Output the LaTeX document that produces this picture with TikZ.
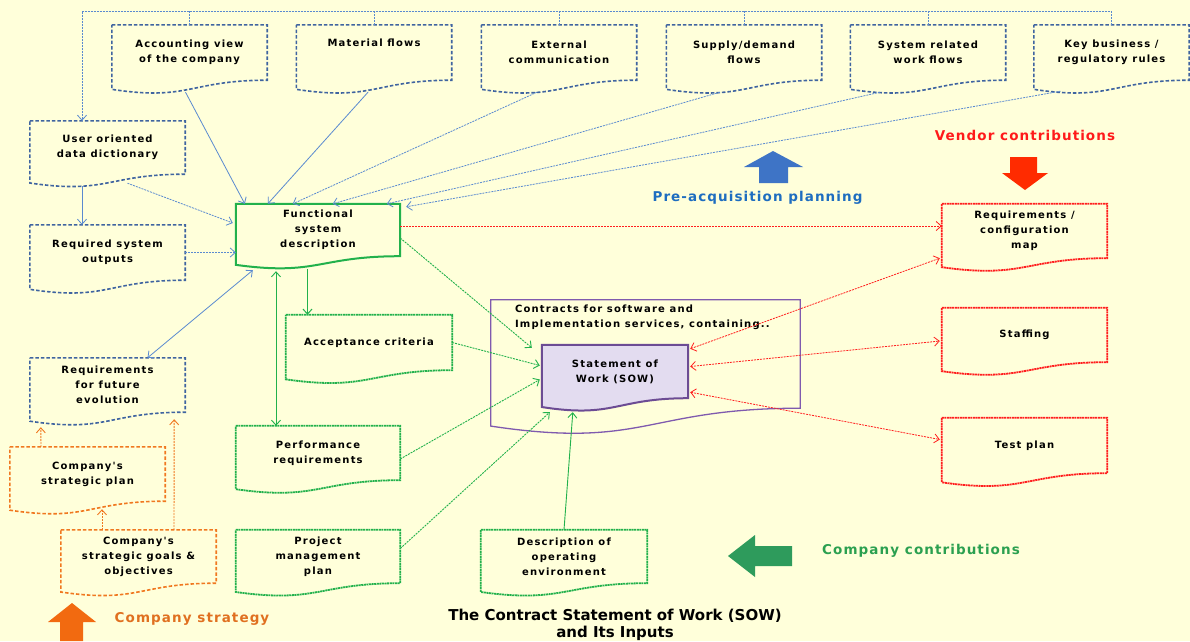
\documentclass[tikz,border=0pt]{standalone}
\usepackage{fontspec}
\setmainfont{DejaVu Sans}
\newfontfamily\boxfont{DejaVu Sans}[LetterSpace=12]
\newfontfamily\labfont{DejaVu Sans}[LetterSpace=8]
\usetikzlibrary{arrows.meta,calc}
\definecolor{bgcol}{HTML}{FFFFDA}
\definecolor{bluebox}{HTML}{3F64A0}
\definecolor{bluelink}{HTML}{5A8AD0}
\definecolor{greenbox}{HTML}{22B14C}
\definecolor{redbox}{HTML}{FF1E1E}
\definecolor{orangebox}{HTML}{F07820}
\definecolor{purplebox}{HTML}{7F5AAE}
\definecolor{sowfill}{HTML}{E3DCF0}
\definecolor{blockblue}{HTML}{3E74C6}
\definecolor{blockred}{HTML}{FF2B00}
\definecolor{blockgreen}{HTML}{2E9B5C}
\definecolor{blockorange}{HTML}{F26A10}
\definecolor{txtblue}{HTML}{1E6DC0}
\definecolor{txtred}{HTML}{FF1A1A}
\definecolor{txtgreen}{HTML}{2BA050}
\definecolor{txtorange}{HTML}{E07020}
% document outline: box with a wavy bottom
\newcommand{\docshape}[2]{%
  \draw[#1] (#2.north west) -- (#2.north east) -- (#2.south east)
    .. controls (#2.south) and ($(#2.north)!1.38!(#2.south)$) .. ($(#2.north west)!1.165!(#2.south west)$) -- cycle;}
\tikzset{
  docbox/.style={inner sep=0pt,align=center,text=black,font=\boxfont\bfseries\fontsize{10}{15}\selectfont},
  bluedash/.style={draw=bluebox,line width=1.6pt,dash pattern=on 3.5pt off 2pt},
  orangedash/.style={draw=orangebox,line width=1.6pt,dash pattern=on 3.5pt off 2pt},
  greensolid/.style={draw=greenbox,line width=2pt},
  greendots/.style={draw=greenbox,line width=1.8pt,dash pattern=on 2pt off 0.6pt},
  reddots/.style={draw=redbox,line width=1.8pt,dash pattern=on 2pt off 0.6pt},
  ctrline/.style={draw=purplebox,line width=1.3pt},
  sowline/.style={draw=purplebox!85!black,line width=2pt,fill=sowfill},
  bluelk/.style={draw=bluelink,line width=0.8pt},
  bluedot/.style={bluelk,dash pattern=on 2pt off 1pt},
  greenlk/.style={draw=greenbox,line width=0.9pt},
  greendot/.style={greenlk,dash pattern=on 2pt off 1pt},
  reddot/.style={draw=redbox,line width=0.8pt,dash pattern=on 2pt off 1pt},
  orangelk/.style={draw=orangebox,line width=0.9pt,dash pattern=on 2pt off 1pt},
  lab/.style={font=\labfont\bfseries\fontsize{13.5}{15}\selectfont}
}
\begin{document}
\begin{tikzpicture}[x=1pt,y=1pt,>={Straight Barb[length=5pt,width=9pt]}]
  \fill[bgcol] (0,0) rectangle (1190,-641);
  \useasboundingbox (0,0) rectangle (1190,-641);
  % business views along the top
  \foreach \n/\x/\t in {acct/189.5/{Accounting view\\of the company},
      matl/374/{Material flows\\\strut}, extc/559/{External\\communication},
      supd/744/{Supply/demand\\flows}, sysw/928/{System related\\work flows},
      keyb/1111.5/{Key business /\\regulatory rules}} {
    \node[docbox,minimum width=155pt,minimum height=55pt] (\n) at (\x,-52.5) {\t};
    \docshape{bluedash}{\n}
  }
  % left column
  \node[docbox,minimum width=155pt,minimum height=53pt] (usr) at (107.5,-147.5) {User oriented\\data dictionary};
  \node[docbox,minimum width=155pt,minimum height=55pt] (rso) at (107.5,-252.5) {Required system\\outputs};
  \node[docbox,minimum width=155pt,minimum height=54pt] (rfe) at (107.5,-385) {Requirements\\for future\\evolution};
  \foreach \n in {usr,rso,rfe} {\docshape{bluedash}{\n}}
  % company strategy
  \node[docbox,minimum width=155pt,minimum height=54pt] (csp) at (87.5,-474) {Company's\\strategic plan};
  \node[docbox,minimum width=155pt,minimum height=53pt] (csg) at (138.5,-556.5) {Company's\\strategic goals \&\\objectives};
  \docshape{orangedash}{csp}
  \docshape{orangedash}{csg}
  % company inputs
  \node[docbox,minimum width=164pt,minimum height=52pt] (fsd) at (318,-230) {Functional\\system\\description};
  \node[docbox,minimum width=166pt,minimum height=55pt] (acc) at (369,-342.5) {Acceptance criteria};
  \node[docbox,minimum width=164pt,minimum height=54pt] (prf) at (318,-453) {Performance\\requirements};
  \node[docbox,minimum width=164pt,minimum height=53pt] (pmp) at (318,-556.5) {Project\\management\\plan};
  \node[docbox,minimum width=166pt,minimum height=53pt] (doe) at (564,-556.5) {Description of\\operating\\environment};
  \docshape{greensolid}{fsd}
  \foreach \n in {acc,prf,pmp,doe} {\docshape{greendots}{\n}}
  % contract and SOW
  \node[docbox,minimum width=309pt,minimum height=108pt] (ctr) at (645.5,-354) {};
  \docshape{ctrline}{ctr}
  \node[docbox,anchor=north west,align=left] (ctrtxt) at ($(ctr.north west)+(24,-5)$) {Contracts for software and\\Implementation services, containing..};
  \node[docbox,minimum width=146pt,minimum height=53pt] (sow) at (615,-371.5) {};
  \docshape{sowline}{sow}
  \node[docbox] (sowtxt) at (sow) {Statement of\\Work (SOW)};
  % vendor contributions
  \node[docbox,minimum width=165pt,minimum height=54pt] (rcm) at (1024.5,-231) {Requirements /\\configuration\\map};
  \node[docbox,minimum width=165pt,minimum height=54pt] (stf) at (1024.5,-335) {Staffing};
  \node[docbox,minimum width=165pt,minimum height=55pt] (tpl) at (1024.5,-445.5) {Test plan};
  \foreach \n in {rcm,stf,tpl} {\docshape{reddots}{\n}}
  % top bus
  \coordinate (busw) at (82,-11);
  \draw[bluedot,->] (keyb.north) |- (busw) -- (busw |- usr.north);
  \foreach \n in {acct,matl,extc,supd,sysw} {\draw[bluedot] (\n.north) -- (\n.north |- busw);}
  \draw[bluelk,->] ($(usr.south -| busw)+(0,-12)$) -- (busw |- rso.north);
  % into the functional description
  \draw[bluelk,->] ($(acct.south)+(-4,-12)$) -- ([xshift=9pt]fsd.north west);
  \draw[bluelk,->] ($(matl.south)+(-6,-12)$) -- ([xshift=32pt]fsd.north west);
  \draw[bluedot,->] ($(extc.south)+(-22,-12)$) -- ([xshift=57pt]fsd.north west);
  \draw[bluedot,->] ($(supd.south)+(-24,-12)$) -- ([xshift=97pt]fsd.north west);
  \draw[bluedot,->] ($(sysw.south)+(-48,-12)$) -- ([xshift=151pt]fsd.north west);
  \draw[bluedot,->] ($(keyb.south)+(-51,-11)$) -- ([xshift=6pt,yshift=-3pt]fsd.north east);
  \draw[bluedot,->] ($(usr.south)+(20,-9)$) -- ([xshift=-3pt,yshift=7pt]fsd.west);
  \draw[bluedot,->] (rso.east) -- (rso.east -| fsd.west);
  \draw[bluelk,<->] ($(fsd.south west)+(17,-14)$) -- ([xshift=40pt]rfe.north);
  % green inputs to the SOW
  \coordinate (fa) at ($(fsd.south)+(-10.5,-13)$);
  \draw[draw=greenbox,line width=1pt,->] (fa) -- (fa |- acc.north);
  \coordinate (fp) at ($(fsd.south)+(-42,-15)$);
  \draw[greenlk,<->] (fp) -- (fp |- prf.north);
  \draw[greendot,->] ([yshift=-8pt]fsd.east) -- ([xshift=-10pt,yshift=-3pt]sow.north west);
  \draw[greendot,->] (acc.east) -- ([xshift=-2pt,yshift=6pt]sow.west);
  \draw[greendot,->] ([yshift=-6pt]prf.east) -- ([xshift=-2pt,yshift=-8pt]sow.west);
  \draw[greendot,->] ([yshift=8pt]pmp.east) -- ($(sow.south west)+(8,-14)$);
  \draw[greenlk,->] (doe.north) -- ($(sow.south west)+(31,-14)$);
  % red links
  \coordinate (fr) at ([yshift=4pt]fsd.east);
  \draw[reddot,->] (fr) -- (fr -| rcm.west);
  \draw[reddot,<->] ([xshift=2pt,yshift=-4pt]sow.north east) -- ([xshift=-2pt]rcm.south west);
  \draw[reddot,<->] ([xshift=2pt,yshift=5pt]sow.east) -- ([xshift=-2pt,yshift=-6pt]stf.west);
  \draw[reddot,<->] ([xshift=2pt,yshift=6pt]sow.south east) -- ([xshift=-2pt,yshift=6pt]tpl.west);
  % orange links
  \draw[orangelk,->] ([xshift=-46.5pt]csp.north) -- ($(rfe.south west)+(11,-15)$);
  \draw[orangelk,->] ([xshift=-36.5pt]csg.north) -- ($(csp.south)+(14.5,-8)$);
  \draw[orangelk,->] ([xshift=35.5pt]csg.north) -- ($(rfe.south east)+(-11,-7)$);
  % block arrows
  \fill[blockblue] (773,-151) -- (803,-167) -- (788,-167) -- (788,-183) -- (759,-183) -- (759,-167) -- (744,-167) -- cycle;
  \fill[blockred] (1025,-190) -- (1048,-173) -- (1037,-173) -- (1037,-157) -- (1010,-157) -- (1010,-173) -- (1002,-173) -- cycle;
  \fill[blockgreen] (728,-556) -- (755,-535) -- (755,-546) -- (792,-546) -- (792,-566) -- (755,-566) -- (755,-577) -- cycle;
  \fill[blockorange] (72,-603) -- (96,-622) -- (83,-622) -- (83,-641) -- (60,-641) -- (60,-622) -- (48,-622) -- cycle;
  % labels
  \node[lab,text=txtblue] (lblpre) at (757.5,-198) {Pre-acquisition planning};
  \node[lab,text=txtred] (lblven) at (1025,-135) {Vendor contributions};
  \node[lab,text=txtgreen] (lblcom) at (921,-551) {Company contributions};
  \node[lab,text=txtorange] (lblstr) at (192,-619) {Company strategy};
  \node[align=center,font=\bfseries\fontsize{15}{17}\selectfont] (title) at (615,-624.5) {The Contract Statement of Work (SOW)\\and Its Inputs};
\end{tikzpicture}
\end{document}
